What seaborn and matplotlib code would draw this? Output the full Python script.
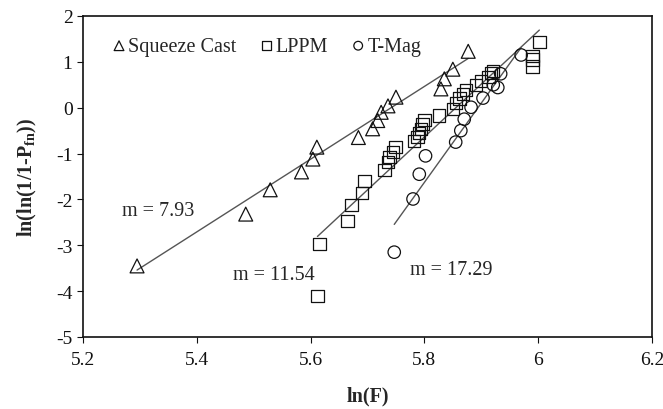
import numpy as np
import pandas as pd
import matplotlib
matplotlib.use("Agg")
import matplotlib.pyplot as plt
import seaborn as sns

# Weibull plot data: ln(F) vs ln(ln(1/(1-P)))
squeeze_x = [5.295, 5.486, 5.529, 5.584, 5.604, 5.611, 5.684, 5.709, 5.718,
             5.724, 5.736, 5.750, 5.829, 5.835, 5.850, 5.877]
squeeze_y = [-3.45, -2.32, -1.79, -1.40, -1.12, -0.86, -0.65, -0.46, -0.28,
             -0.10, 0.04, 0.23, 0.41, 0.63, 0.84, 1.23]

lppm_x = [5.612, 5.616, 5.665, 5.672, 5.690, 5.695, 5.730, 5.736, 5.739,
          5.745, 5.749, 5.782, 5.788, 5.791, 5.794, 5.797, 5.800, 5.826,
          5.850, 5.856, 5.862, 5.868, 5.873, 5.891, 5.899, 5.913, 5.917,
          5.921, 5.990, 5.990, 5.990, 6.002]
lppm_y = [-4.11, -2.97, -2.47, -2.12, -1.86, -1.60, -1.36, -1.19, -1.08,
          -0.96, -0.86, -0.72, -0.64, -0.55, -0.46, -0.36, -0.27, -0.17,
          -0.03, 0.10, 0.20, 0.30, 0.38, 0.50, 0.58, 0.67, 0.76, 0.80,
          0.90, 1.05, 1.13, 1.43]

tmag_x = [5.747, 5.780, 5.791, 5.802, 5.855, 5.864, 5.870, 5.882, 5.903,
          5.921, 5.929, 5.934, 5.970]
tmag_y = [-3.15, -1.99, -1.45, -1.05, -0.75, -0.50, -0.25, 0.01, 0.21,
          0.50, 0.44, 0.74, 1.15]

series_names = ["Squeeze Cast", "LPPM", "T-Mag"]
slopes = [7.93, 11.54, 17.29]
intercepts = [-45.53, -67.57, -101.91]

x_ticks = [5.2, 5.4, 5.6, 5.8, 6.0, 6.2]
x_tick_labels = ["5.2", "5.4", "5.6", "5.8", "6", "6.2"]
y_ticks = [-5, -4, -3, -2, -1, 0, 1, 2]

sns.set_style("white")
plt.rcParams["font.family"] = ["Liberation Serif", "DejaVu Serif"]
plt.rcParams["mathtext.fontset"] = "custom"
plt.rcParams["mathtext.rm"] = "Liberation Serif"
plt.rcParams["mathtext.bf"] = "Liberation Serif:bold"
plt.rcParams["axes.unicode_minus"] = False

FS = 14.5

df = pd.concat([
    pd.DataFrame({"lnF": squeeze_x, "lnln": squeeze_y, "process": series_names[0]}),
    pd.DataFrame({"lnF": lppm_x, "lnln": lppm_y, "process": series_names[1]}),
    pd.DataFrame({"lnF": tmag_x, "lnln": tmag_y, "process": series_names[2]}),
], ignore_index=True)

fig = plt.figure(figsize=(6.63, 4.10), dpi=100)
ax = fig.add_axes([83 / 663, 1 - 338 / 410, (652 - 83) / 663, (338 - 17) / 410])

# fitted Weibull lines, spanning each series' range
for name, m, b in zip(series_names, slopes, intercepts):
    sub = df[df["process"] == name]
    xs = np.array([sub["lnF"].min(), sub["lnF"].max()])
    sns.lineplot(x=xs, y=m * xs + b, ax=ax, color="#555555", linewidth=1.0,
                 legend=False, zorder=1)

markers = {"Squeeze Cast": "^", "LPPM": "s", "T-Mag": "o"}
sizes = {"Squeeze Cast": 100, "LPPM": 80, "T-Mag": 80}
for name in series_names:
    sub = df[df["process"] == name]
    sns.scatterplot(data=sub, x="lnF", y="lnln", marker=markers[name],
                    s=sizes[name], facecolor="none", edgecolor="#111111",
                    linewidth=0.9, ax=ax, label=name, zorder=3)

ax.set_xlim(5.2, 6.2)
ax.set_ylim(-5, 2)
ax.set_xticks(x_ticks)
ax.set_xticklabels(x_tick_labels)
ax.set_yticks(y_ticks)
ax.tick_params(axis="both", direction="out", length=4, width=0.8,
               labelsize=14, colors="#111111", bottom=True, left=True)
ax.tick_params(axis="x", pad=6)
for sp in ax.spines.values():
    sp.set_color("#111111")
    sp.set_linewidth(1.2)

ax.set_xlabel("ln(F)", fontsize=FS, fontweight="bold", labelpad=13)
ax.set_ylabel(r"ln(ln(1/1-P$_{\mathbf{fn}}$))", fontsize=FS,
              fontweight="bold", labelpad=12)

# slope annotations
ax.text(5.268, -2.25, f"m = {slopes[0]:.2f}", fontsize=FS, va="center", ha="left")
ax.text(5.464, -3.63, f"m = {slopes[1]:.2f}", fontsize=FS, va="center", ha="left")
ax.text(5.774, -3.52, f"m = {slopes[2]:.2f}", fontsize=FS, va="center", ha="left")

leg = ax.legend(loc="upper left", bbox_to_anchor=(0.035, 0.96), ncol=3,
                frameon=False, fontsize=FS, handletextpad=0.05,
                columnspacing=1.1, markerscale=0.7, handlelength=0.8,
                borderaxespad=0)

fig.savefig("out.png", dpi=100)
